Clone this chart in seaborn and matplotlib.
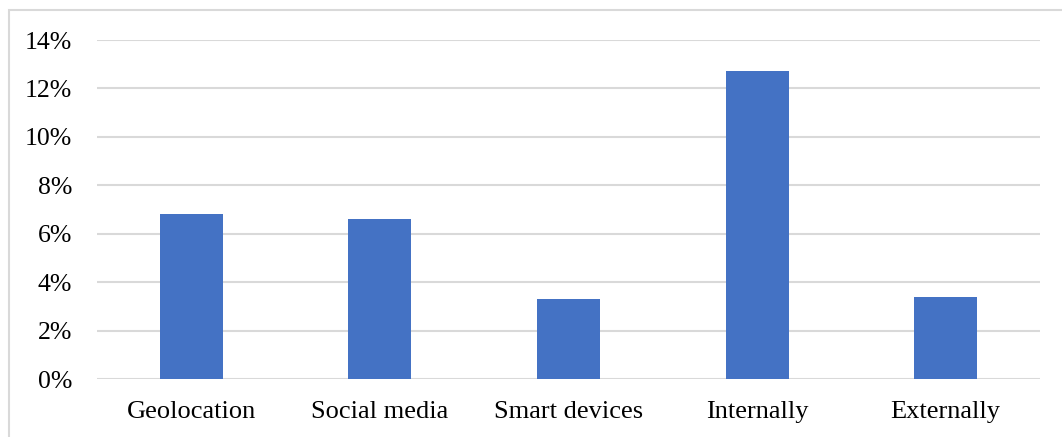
import matplotlib
matplotlib.use("Agg")
import matplotlib.pyplot as plt
import seaborn as sns
import pandas as pd
from matplotlib.patches import Rectangle
from matplotlib.ticker import FuncFormatter

categories = ["Geolocation", "Social media", "Smart devices", "Internally", "Externally"]
values = [6.8, 6.6, 3.3, 12.7, 3.4]
yticks = [0, 2, 4, 6, 8, 10, 12, 14]

df = pd.DataFrame({"category": categories, "value": values})

sns.set_style("white")
plt.rcParams["font.family"] = ["Liberation Serif", "DejaVu Serif"]

fig = plt.figure(figsize=(10.62, 4.37), dpi=100)
ax = fig.add_axes([97/1062, 1-379/437, (1040-97)/1062, (379-40)/437])

sns.barplot(data=df, x="category", y="value", color="#4472C4", width=0.334,
            saturation=1, ax=ax, zorder=3, linewidth=0)

ax.set_ylim(0, 14)
ax.set_xlim(-0.5, 4.5)
ax.set_yticks(yticks)
ax.yaxis.set_major_formatter(FuncFormatter(lambda v, p: f"{v:.0f}%"))
ax.grid(axis="y", color="#d9d9d9", linewidth=1.5, zorder=0)
ax.grid(axis="x", visible=False)
for s in ax.spines.values():
    s.set_visible(False)
ax.tick_params(axis="both", length=0, colors="black")
ax.tick_params(axis="y", pad=18, labelsize=18.5)
ax.tick_params(axis="x", pad=16, labelsize=19)
ax.set_xlabel("")
ax.set_ylabel("")

fig.patches.append(Rectangle((9/1062, -0.2), 2, 1 - 10/437 + 0.2, transform=fig.transFigure,
                             fill=False, edgecolor="#d9d9d9", linewidth=1.5, zorder=0))

fig.savefig("out.png", dpi=100)
